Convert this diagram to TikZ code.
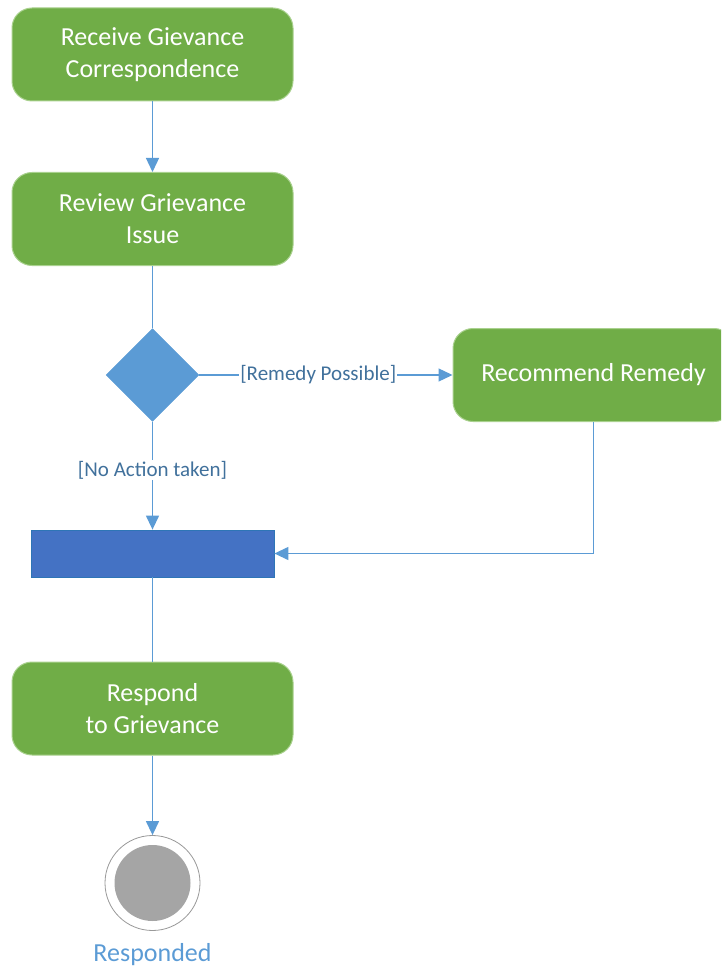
\documentclass[tikz,border=0pt]{standalone}
\usepackage{fontspec}
\setmainfont{Carlito}
\usetikzlibrary{arrows.meta,shapes.geometric,positioning}
\definecolor{actgreen}{HTML}{70AD47}
\definecolor{actborder}{HTML}{A9D18E}
\definecolor{conn}{HTML}{5B9BD5}
\definecolor{barblue}{HTML}{4472C4}
\definecolor{barborder}{HTML}{2E75B6}
\definecolor{lbl}{HTML}{41719C}
\definecolor{endgray}{HTML}{A5A5A5}
\tikzset{
  x=1pt, y=-1pt,
  action/.style={draw=actborder, line width=1pt, fill=actgreen, rounded corners=20pt,
    minimum width=281pt, minimum height=93pt, text=white, align=center,
    font=\fontsize{26}{32}\selectfont, inner sep=0pt},
  decision/.style={diamond, fill=conn, draw=conn, minimum width=93pt, minimum height=93pt, inner sep=0pt},
  syncbar/.style={rectangle, fill=barblue, draw=barborder, line width=0.8pt, minimum width=243pt, minimum height=47pt, inner sep=0pt},
  flow/.style={draw=conn, line width=1.3pt, -{Triangle[length=14pt,width=13pt]}},
  plain/.style={draw=conn, line width=1.3pt},
  guard/.style={fill=white, text=lbl, font=\fontsize{21}{25}\selectfont, inner sep=1pt},
}
\begin{document}
\begin{tikzpicture}
\useasboundingbox (0,0) rectangle (721,968);
\begin{scope}
\clip (0,0) rectangle (721,968);
\node[action] (receive) at (152.5,54.5) {Receive Gievance\\Correspondence};
\node[action] (review) at (152.5,219) {Review Grievance\\Issue};
\node[decision] (dec) at (152.5,375) {};
\node[action] (recommend) at (593.5,375) {Recommend Remedy};
\node[syncbar] (bar) at (152.5,553.5) {};
\node[action] (respond) at (152.5,708.5) {Respond\\to Grievance};
\node[circle, draw=gray!80, line width=0.8pt, fill=white, minimum size=95pt, inner sep=0pt] (final) at (152.5,883) {};
\node[circle, fill=endgray, minimum size=76pt, inner sep=0pt] (finalin) at (final.center) {};
\node[text=conn, font=\fontsize{26}{30}\selectfont, below=9pt of final] (flab) {Responded};

\draw[flow] (receive) -- (review);
\draw[plain] (review) -- (dec.north);
\draw[flow] (dec.east) -- node[guard, pos=0.47] {[Remedy Possible]} (recommend.west);
\draw[flow] (dec.south) -- node[guard, pos=0.45] {[No Action taken]} (bar.north);
\draw[flow] (recommend.south) |- (bar.east);
\draw[plain] (bar.south) -- (respond.north);
\draw[flow] (respond.south) -- (final.north);
\end{scope}
\end{tikzpicture}
\end{document}
